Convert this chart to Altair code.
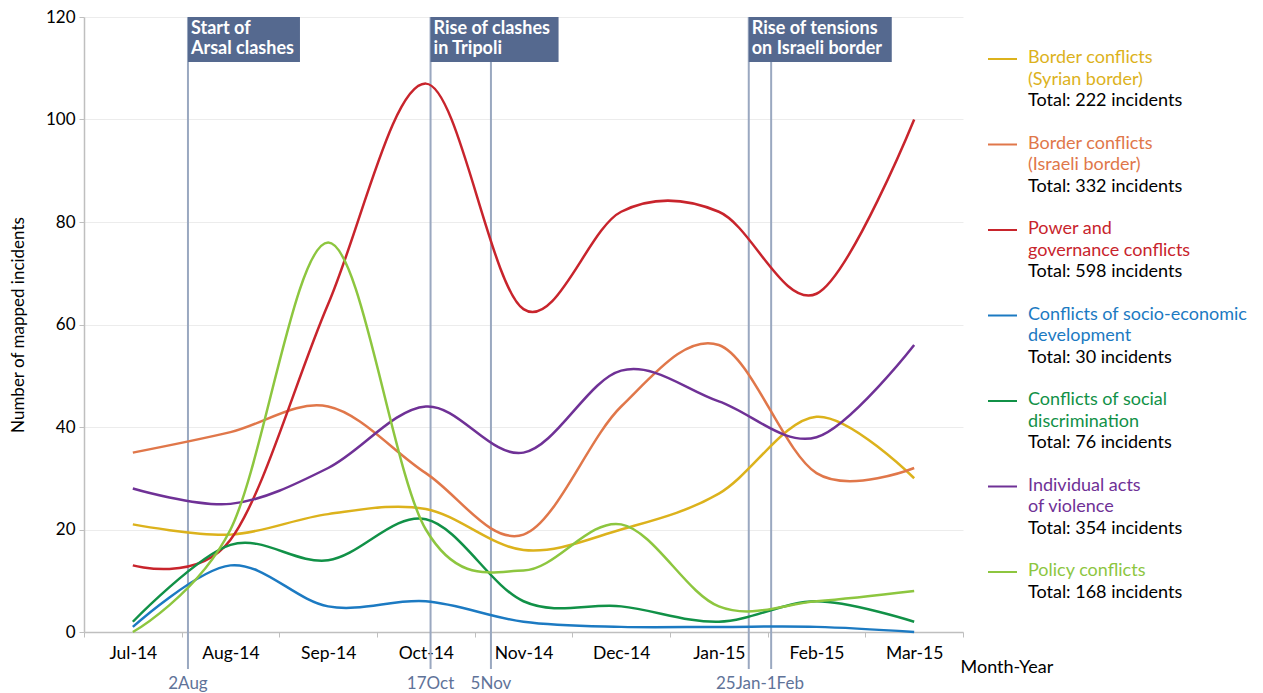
import json
import calendar
import altair as alt
import pandas as pd

# ---------------- data ----------------
MONTHS = ["Jul-14", "Aug-14", "Sep-14", "Oct-14", "Nov-14", "Dec-14", "Jan-15", "Feb-15", "Mar-15"]
MONTH_YM = [(2014, 7), (2014, 8), (2014, 9), (2014, 10), (2014, 11), (2014, 12), (2015, 1), (2015, 2), (2015, 3)]

SERIES_NAMES = [
    "Border conflicts\n(Syrian border)",
    "Border conflicts\n(Israeli border)",
    "Power and\ngovernance conflicts",
    "Conflicts of socio-economic\ndevelopment",
    "Conflicts of social\ndiscrimination",
    "Individual acts\nof violence",
    "Policy conflicts",
]
SERIES_COLORS = ["#dcb21c", "#e0774a", "#c8242c", "#1c7ac2", "#119147", "#6f3196", "#8dc63f"]
TOTALS = [222, 332, 598, 30, 76, 354, 168]

syrian_border = [21, 19, 23, 24, 16, 20, 27, 42, 30]
israeli_border = [35, 39, 44, 31, 19, 44, 56, 31, 32]
power_governance = [13, 18, 64, 107, 63, 82, 82, 66, 100]
socio_economic = [1, 13, 5, 6, 2, 1, 1, 1, 0]
social_discrimination = [2, 17, 14, 22, 6, 5, 2, 6, 2]
individual_violence = [28, 25, 32, 44, 35, 51, 45, 38, 56]
policy_conflicts = [0, 20, 76, 20, 12, 21, 5, 6, 8]
SERIES_VALUES = [syrian_border, israeli_border, power_governance, socio_economic,
                 social_discrimination, individual_violence, policy_conflicts]

EVENT_DATES = [(2014, 8, 2), (2014, 10, 17), (2014, 11, 5), (2015, 1, 25), (2015, 2, 1)]
EVENT_DATE_LABELS = [("2Aug", [0]), ("17Oct", [1]), ("5Nov", [2]), ("25Jan-1Feb", [3, 4])]
ANNOTATIONS = [("Start of\nArsal clashes", 0), ("Rise of clashes\nin Tripoli", 1),
               ("Rise of tensions\non Israeli border", 3)]

# ---------------- styling ----------------
FONT = "Lato"
W, H = 879, 615
BOX_COLOR = "#55698f"
RULE_COLOR = "#9aa8c0"
DATE_COLOR = "#5f7399"
AXIS_GREY = "#bfbfbf"
BOX_WIDTHS = [112, 128, 143]
LINE_H = 21.5


def date_pos(y, m, d):
    i = MONTH_YM.index((y, m))
    return i - 0.5 + d / calendar.monthrange(y, m)[1]


event_pos = [date_pos(*d) for d in EVENT_DATES]

rows = []
for name, vals in zip(SERIES_NAMES, SERIES_VALUES):
    for i, v in enumerate(vals):
        rows.append({"series": name, "idx": i, "count": v})
df_lines = pd.DataFrame(rows)

df_events = pd.DataFrame({"idx": event_pos})
df_dates = pd.DataFrame({
    "label": [l for l, _ in EVENT_DATE_LABELS],
    "idx": [sum(event_pos[k] for k in ks) / len(ks) for _, ks in EVENT_DATE_LABELS],
})

df_legend = pd.DataFrame({
    "series": SERIES_NAMES,
    "order": list(range(len(SERIES_NAMES))),
    "nlines": [n.count("\n") + 1 for n in SERIES_NAMES],
    "total": [f"Total: {t} incidents" for t in TOTALS],
})

color_scale = alt.Scale(domain=SERIES_NAMES, range=SERIES_COLORS)
x_scale = alt.Scale(domain=[-0.5, len(MONTHS) - 0.5], nice=False, zero=False)
legend_y = alt.Scale(domain=[0, 6], range=[42, 555])

label_expr = "(" + json.dumps(MONTHS + [""]) + ")[round(datum.value + 0.5)]"

x_axis = alt.Axis(
    values=[i - 0.5 for i in range(len(MONTHS) + 1)],
    labelExpr=label_expr,
    labelOffset=W / len(MONTHS) / 2,
    labelFlush=False,
    labelOverlap=False,
    labelFontSize=17.5,
    labelColor="#000000",
    labelPadding=7,
    grid=False,
    domainColor=AXIS_GREY,
    domainWidth=1.5,
    tickColor=AXIS_GREY,
    tickSize=5,
    title="Month-Year",
    titleFontSize=18,
    titleFontWeight="normal",
    titleColor="#000000",
    titleX=876,
    titleY=35,
    titleAlign="left",
    titleBaseline="middle",
)
y_axis = alt.Axis(
    values=[0, 20, 40, 60, 80, 100, 120],
    grid=True,
    gridColor="#ececec",
    domainColor=AXIS_GREY,
    domainWidth=1.5,
    tickColor=AXIS_GREY,
    tickSize=5,
    labelFontSize=17,
    labelColor="#000000",
    labelPadding=4,
    title="Number of mapped incidents",
    titleFontSize=17,
    titleFontWeight="normal",
    titleColor="#000000",
    titleX=-66,
    titleY=H / 2,
    titleAlign="center",
    titleBaseline="middle",
)


def X():
    # same x field, scale and axis in every layer so the shared axis merges cleanly
    return alt.X("idx:Q", scale=x_scale, axis=x_axis)


rules = alt.Chart(df_events).mark_rule(color=RULE_COLOR, strokeWidth=2).encode(
    x=X(),
    y=alt.value(0),
    y2=alt.value(652),
)

lines = alt.Chart(df_lines).mark_line(interpolate="cardinal", strokeWidth=2.5).encode(
    x=X(),
    y=alt.Y("count:Q", scale=alt.Scale(domain=[0, 120], nice=False), axis=y_axis),
    color=alt.Color("series:N", scale=color_scale, legend=None),
)

boxes = []
for (text, k), bw in zip(ANNOTATIONS, BOX_WIDTHS):
    d = pd.DataFrame({"idx": [event_pos[k]], "label": [text]})
    boxes.append(alt.Chart(d).mark_rect(color=BOX_COLOR, x2Offset=bw).encode(
        x=X(),
        x2="idx:Q",
        y=alt.value(0),
        y2=alt.value(45),
    ))
    boxes.append(alt.Chart(d).mark_text(
        align="left", baseline="top", dx=3, lineBreak="\n", lineHeight=19.5,
        font=FONT, fontSize=18, fontWeight="bold", color="white",
    ).encode(
        x=X(),
        y=alt.value(3),
        text="label:N",
    ))

date_labels = alt.Chart(df_dates).mark_text(
    font=FONT, fontSize=17, color=DATE_COLOR, baseline="middle", align="center"
).encode(
    x=X(),
    y=alt.value(667),
    text="label:N",
)

legend_swatch = alt.Chart(df_legend).mark_rule(strokeWidth=2).encode(
    x=alt.value(904),
    x2=alt.value(933),
    y=alt.Y("order:Q", scale=legend_y, axis=None),
    color=alt.Color("series:N", scale=color_scale, legend=None),
)
legend_names = alt.Chart(df_legend).mark_text(
    align="left", baseline="top", dy=-10, lineBreak="\n", lineHeight=LINE_H,
    font=FONT, fontSize=18,
).encode(
    x=alt.value(944),
    y=alt.Y("order:Q", scale=legend_y, axis=None),
    text="series:N",
    color=alt.Color("series:N", scale=color_scale, legend=None),
)
legend_totals = []
for n in sorted(set(df_legend["nlines"])):
    legend_totals.append(alt.Chart(df_legend).transform_filter(
        alt.datum.nlines == n
    ).mark_text(
        align="left", baseline="top", dy=-10 + n * LINE_H,
        font=FONT, fontSize=18, color="#000000",
    ).encode(
        x=alt.value(944),
        y=alt.Y("order:Q", scale=legend_y, axis=None),
        text="total:N",
    ))

chart = alt.layer(
    rules, *boxes, date_labels, lines, legend_swatch, legend_names, *legend_totals
).resolve_scale(y="independent").properties(
    width=W,
    height=H,
    autosize=alt.AutoSizeParams(type="none"),
    padding={"left": 84, "top": 17, "right": 1263 - 84 - W, "bottom": 693 - 17 - H},
    background="white",
).configure(font=FONT).configure_view(strokeWidth=0, stroke="transparent")

chart.save("out.html", embed_options={"renderer": "svg", "actions": False})
